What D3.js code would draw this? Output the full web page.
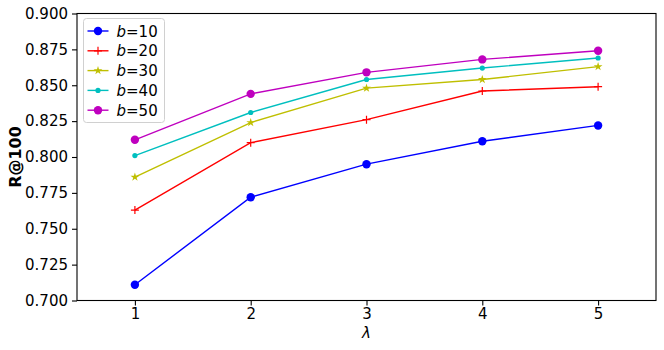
<!DOCTYPE html>
<html><head><meta charset="utf-8">
<script src="https://cdn.jsdelivr.net/npm/d3@7"></script>
<style>body{margin:0;background:#fff}svg{display:block}text{font-family:"DejaVu Sans",sans-serif}</style>
</head><body>
<svg id="c" width="664" height="350"></svg>
<script>
const lambdas = [1, 2, 3, 4, 5];
const b10 = [0.711, 0.772, 0.795, 0.811, 0.822];
const b20 = [0.763, 0.810, 0.826, 0.846, 0.849];
const b30 = [0.786, 0.824, 0.848, 0.854, 0.863];
const b40 = [0.801, 0.831, 0.854, 0.862, 0.869];
const b50 = [0.812, 0.844, 0.859, 0.868, 0.874];
const seriesNames = ["10", "20", "30", "40", "50"];
const yTicks = [0.700, 0.725, 0.750, 0.775, 0.800, 0.825, 0.850, 0.875, 0.900];

const series = [
  {name: seriesNames[0], values: b10, color: "#0000ff", marker: "circle"},
  {name: seriesNames[1], values: b20, color: "#ff0000", marker: "plus"},
  {name: seriesNames[2], values: b30, color: "#bfbf00", marker: "star"},
  {name: seriesNames[3], values: b40, color: "#00bfbf", marker: "point"},
  {name: seriesNames[4], values: b50, color: "#bf00bf", marker: "circle"}
];

const svg = d3.select("#c");
const L = 77, R = 656, T = 13.5, B = 300.5;
const x = d3.scaleLinear().domain([0.5, 5.5]).range([L, R]);
const y = d3.scaleLinear().domain([0.7, 0.9]).range([B, T]);

const xAxis = svg.append("g").attr("transform", `translate(0,${B})`)
  .call(d3.axisBottom(x).tickValues(lambdas).tickFormat(d3.format("d")).tickSize(5).tickPadding(3));
const yAxis = svg.append("g").attr("transform", `translate(${L},0)`)
  .call(d3.axisLeft(y).tickValues(yTicks).tickFormat(d3.format(".3f")).tickSize(5).tickPadding(4));
[xAxis, yAxis].forEach(g => {
  g.select(".domain").remove();
  g.selectAll("line").attr("stroke", "#000").attr("stroke-width", 1.1);
  g.selectAll("text").attr("fill", "#000").style("font-size", "15px").style("font-family", "DejaVu Sans");
});

svg.append("rect").attr("x", L).attr("y", T).attr("width", R - L).attr("height", B - T)
  .attr("fill", "none").attr("stroke", "#000").attr("stroke-width", 1.1);

function drawMarker(g, m, cx, cy, color) {
  if (m === "circle") g.append("circle").attr("cx", cx).attr("cy", cy).attr("r", 4.2).attr("fill", color);
  else if (m === "point") g.append("circle").attr("cx", cx).attr("cy", cy).attr("r", 2.6).attr("fill", color);
  else if (m === "plus") g.append("path").attr("d", `M${cx-4},${cy}H${cx+4}M${cx},${cy-4}V${cy+4}`).attr("stroke", color).attr("stroke-width", 1.2);
  else if (m === "star") g.append("path").attr("d", d3.symbol(d3.symbolStar, 24)()).attr("transform", `translate(${cx},${cy})`).attr("fill", color);
}

const line = d3.line().x((d, i) => x(lambdas[i])).y(d => y(d));
series.forEach(s => {
  const g = svg.append("g");
  g.append("path").attr("d", line(s.values)).attr("fill", "none").attr("stroke", s.color).attr("stroke-width", 1.4);
  s.values.forEach((v, i) => drawMarker(g, s.marker, x(lambdas[i]), y(v), s.color));
});

// legend
const lg = svg.append("g");
lg.append("rect").attr("x", 83.5).attr("y", 18.5).attr("width", 81).attr("height", 104).attr("rx", 3)
  .attr("fill", "#fff").attr("fill-opacity", 0.8).attr("stroke", "#d0d0d0").attr("stroke-width", 1);
series.forEach((s, i) => {
  const cy = 31 + i * 19.8;
  lg.append("line").attr("x1", 87.5).attr("x2", 108.5).attr("y1", cy).attr("y2", cy).attr("stroke", s.color).attr("stroke-width", 1.4);
  drawMarker(lg, s.marker, 98, cy, s.color);
  const t = lg.append("text").attr("x", 116.5).attr("y", cy + 5.5).style("font-size", "15px").attr("fill", "#000");
  t.append("tspan").style("font-style", "italic").text("b");
  t.append("tspan").text("=" + s.name);
});

svg.append("text").attr("transform", "translate(21,157) rotate(-90)").attr("text-anchor", "middle")
  .style("font-size", "16px").style("font-weight", "bold").text("R@100");
svg.append("text").attr("x", x(3)).attr("y", 338).attr("text-anchor", "middle")
  .style("font-size", "15px").style("font-style", "italic").text("λ");
</script>
</body></html>
